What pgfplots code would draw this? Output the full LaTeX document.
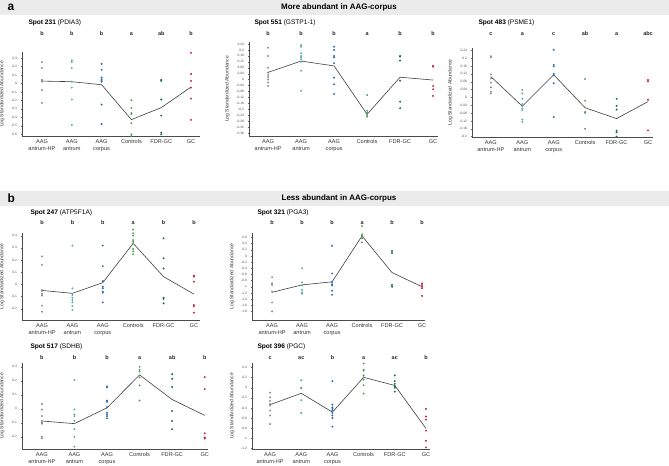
\documentclass[border=0pt]{standalone}
\usepackage{fontspec}
\setmainfont{Liberation Sans}
\usepackage{pgfplots}
\pgfplotsset{compat=1.18}
\definecolor{cHP}{HTML}{8C8C8C}
\definecolor{cAnt}{HTML}{5FAAA8}
\definecolor{cCor}{HTML}{2F6DB0}
\definecolor{cCon}{HTML}{55A05A}
\definecolor{cFdr}{HTML}{1E6A50}
\definecolor{cGC}{HTML}{C8283C}
\definecolor{barg}{HTML}{EBEBEB}
\pgfplotsset{
 panel/.style={
  scale only axis, clip=false, anchor=south west,
  axis lines=left, axis line style={-, line width=0.5bp, black!70},
  xtick={0,1,2,3,4,5},
  xticklabels={{AAG\\antrum-HP},{AAG\\antrum},{AAG\\corpus},{Controls},{FDR-GC},{GC}},
  xticklabel style={font=\fontsize{5.6}{7.1}\selectfont, align=center, text=black!80, anchor=north, inner sep=1.5bp},
  yticklabel style={font=\fontsize{3.3}{4}\selectfont, text=black!70},
  tick style={black!60, line width=0.3bp},
  major tick length=1.5bp, tick align=outside,
  ylabel={Log Standardized Abundance},
  ylabel style={font=\fontsize{5}{6}\selectfont, text=black!80},
  scaled ticks=false,
  /pgf/number format/assume math mode=true,
  /pgf/number format/fixed,
  /pgf/number format/precision=2,
 },
 pts/.style={only marks, mark=*, mark size=0.75bp, mark options={draw=none}},
 meanl/.style={no marks, line width=0.6bp, black!75},
}
\tikzset{letter/.style={font=\bfseries\fontsize{5.5}{6}\selectfont, text=black!85}}
\newcommand\cats[1]{%
 \coordinate (#1-0) at (axis cs:0,0);
 \coordinate (#1-1) at (axis cs:1,0);
 \coordinate (#1-2) at (axis cs:2,0);
 \coordinate (#1-3) at (axis cs:3,0);
 \coordinate (#1-4) at (axis cs:4,0);
 \coordinate (#1-5) at (axis cs:5,0);
}
\newcommand\letters[8]{%
 \node[letter] at (#1-0 |- 0,#2) {#3};
 \node[letter] at (#1-1 |- 0,#2) {#4};
 \node[letter] at (#1-2 |- 0,#2) {#5};
 \node[letter] at (#1-3 |- 0,#2) {#6};
 \node[letter] at (#1-4 |- 0,#2) {#7};
 \node[letter] at (#1-5 |- 0,#2) {#8};
}
\begin{document}
\begin{tikzpicture}[x=1bp,y=1bp]
\useasboundingbox (0,0) rectangle (669,466);
\fill[white] (0,0) rectangle (669,466);
% header bars
\fill[barg] (0,451) rectangle (669,466);
\node[font=\bfseries\fontsize{12}{12}\selectfont, anchor=west] at (4,458.5) {a};
\node[font=\bfseries\fontsize{8}{9}\selectfont] at (339,458.5) {More abundant in AAG-corpus};
\fill[barg] (0,260) rectangle (669,275);
\node[font=\bfseries\fontsize{12}{12}\selectfont, anchor=west] at (4,267.5) {b};
\node[font=\bfseries\fontsize{8}{9}\selectfont] at (339,267.5) {Less abundant in AAG-corpus};
% titles
\tikzset{ttl/.style={anchor=west, font=\fontsize{6.6}{7}\selectfont}}
\node[ttl] at (25,443) {\textbf{Spot 231} (PDIA3)};
\node[ttl] at (251,443) {\textbf{Spot 551} (GSTP1-1)};
\node[ttl] at (475,443) {\textbf{Spot 483} (PSME1)};
\node[ttl] at (27,253) {\textbf{Spot 247} (ATP5F1A)};
\node[ttl] at (254,253) {\textbf{Spot 321} (PGA3)};
\node[ttl] at (27,119) {\textbf{Spot 517} (SDHB)};
\node[ttl] at (254,119) {\textbf{Spot 396} (PGC)};

% ---------- a1 Spot 231
\begin{axis}[panel, at={(22bp,330bp)}, width=178bp, height=84bp,
  xmin=-0.67, xmax=5.3, ymin=-0.62, ymax=0.37,
  ytick={-0.6,-0.5,-0.4,-0.3,-0.2,-0.1,0,0.1,0.2,0.3}]
\addplot[meanl] coordinates {(0,0.027) (1,0.02) (2,-0.016) (3,-0.427) (4,-0.286) (5,-0.043)};
\addplot[pts, cHP] coordinates {(0,0.25) (0,0.18) (0,0.04) (0,0.03) (0,0.02) (0,-0.08) (0,-0.23)};
\addplot[pts, cAnt] coordinates {(1,0.27) (1,0.25) (1,0.18) (1,0.02) (1,-0.05) (1,-0.19) (1,-0.49)};
\addplot[pts, cCor] coordinates {(2,0.23) (2,0.16) (2,0.07) (2,0.05) (2,0.03) (2,0.02) (2,-0.25) (2,-0.48)};
\addplot[pts, cCon] coordinates {(3,-0.2) (3,-0.29) (3,-0.35) (3,-0.36) (3,-0.47) (3,-0.6) (3,-0.62)};
\addplot[pts, cFdr] coordinates {(4,0.04) (4,0.03) (4,-0.19) (4,-0.38) (4,-0.58) (4,-0.6)};
\addplot[pts, cGC] coordinates {(5,0.36) (5,0.11) (5,0.03) (5,-0.05) (5,-0.18) (5,-0.43)};
\cats{A1}
\end{axis}
\letters{A1}{432}{b}{b}{b}{a}{ab}{b}

% ---------- a2 Spot 551
\begin{axis}[panel, at={(249bp,330bp)}, width=189bp, height=94bp,
  xmin=-0.58, xmax=5.15, ymin=-0.38, ymax=0.2535,
  ytick={-0.36,-0.32,-0.28,-0.24,-0.2,-0.16,-0.12,-0.08,-0.04,0,0.04,0.08,0.12,0.16,0.2,0.24}]
\addplot[meanl] coordinates {(0,0.049) (1,0.125) (2,0.092) (3,-0.234) (4,0.016) (5,-0.003)};
\addplot[pts, cHP] coordinates {(0,0.215) (0,0.159) (0,0.08) (0,0.047) (0,0.031) (0,0.016) (0,0.0) (0,-0.02) (0,-0.043)};
\addplot[pts, cAnt] coordinates {(1,0.233) (1,0.222) (1,0.177) (1,0.159) (1,0.15) (1,0.137) (1,0.121) (1,0.06) (1,-0.075)};
\addplot[pts, cCor] coordinates {(2,0.222) (2,0.2) (2,0.159) (2,0.15) (2,0.11) (2,0.013) (2,-0.032) (2,-0.097)};
\addplot[pts, cCon] coordinates {(3,-0.104) (3,-0.21) (3,-0.223) (3,-0.239) (3,-0.25)};
\addplot[pts, cFdr] coordinates {(4,0.159) (4,0.155) (4,0.128) (4,-0.007) (4,-0.149) (4,-0.193)};
\addplot[pts, cGC] coordinates {(5,0.092) (5,0.087) (5,-0.043) (5,-0.065) (5,-0.11)};
\cats{A2}
\end{axis}
\letters{A2}{432}{b}{b}{b}{a}{b}{b}

% ---------- a3 Spot 483
\begin{axis}[panel, at={(472bp,329bp)}, width=181bp, height=89bp,
  xmin=-0.6, xmax=5.16, ymin=-0.202, ymax=0.252,
  ytick={-0.2,-0.16,-0.12,-0.08,-0.04,0,0.04,0.08,0.12,0.16,0.2,0.24}]
\addplot[meanl] coordinates {(0,0.106) (1,-0.045) (2,0.115) (3,-0.053) (4,-0.108) (5,-0.022)};
\addplot[pts, cHP] coordinates {(0,0.21) (0,0.205) (0,0.117) (0,0.096) (0,0.075) (0,0.051) (0,0.029) (0,0.02)};
\addplot[pts, cAnt] coordinates {(1,0.038) (1,0.02) (1,-0.007) (1,-0.034) (1,-0.045) (1,-0.057) (1,-0.065) (1,-0.113) (1,-0.125)};
\addplot[pts, cCor] coordinates {(2,0.243) (2,0.166) (2,0.158) (2,0.12) (2,0.113) (2,0.072) (2,-0.1)};
\addplot[pts, cCon] coordinates {(3,0.094) (3,-0.017) (3,-0.074) (3,-0.079) (3,-0.16)};
\addplot[pts, cFdr] coordinates {(4,-0.007) (4,-0.043) (4,-0.062) (4,-0.17) (4,-0.178) (4,-0.2)};
\addplot[pts, cGC] coordinates {(5,0.089) (5,0.082) (5,-0.012) (5,-0.168)};
\cats{A3}
\end{axis}
\letters{A3}{432}{c}{a}{c}{ab}{a}{abc}

% ---------- b1 Spot 247
\begin{axis}[panel, at={(22bp,146bp)}, width=178bp, height=87bp,
  xmin=-0.66, xmax=5.2, ymin=-0.293, ymax=0.422,
  ytick={-0.2,-0.1,0,0.1,0.2,0.3,0.4}]
\addplot[meanl] coordinates {(0,-0.05) (1,-0.074) (2,0.014) (3,0.337) (4,0.063) (5,-0.08)};
\addplot[pts, cHP] coordinates {(0,0.23) (0,0.16) (0,-0.047) (0,-0.055) (0,-0.08) (0,-0.093) (0,-0.175) (0,-0.225)};
\addplot[pts, cAnt] coordinates {(1,0.318) (1,-0.033) (1,-0.088) (1,-0.11) (1,-0.13) (1,-0.148) (1,-0.18) (1,-0.21)};
\addplot[pts, cCor] coordinates {(2,0.318) (2,0.15) (2,0.027) (2,-0.02) (2,-0.033) (2,-0.06) (2,-0.068) (2,-0.148)};
\addplot[pts, cCon] coordinates {(3,0.45) (3,0.42) (3,0.40) (3,0.364) (3,0.35) (3,0.337) (3,0.29) (3,0.27) (3,0.247)};
\addplot[pts, cFdr] coordinates {(4,0.378) (4,0.214) (4,0.13) (4,-0.11) (4,-0.12) (4,-0.156)};
\addplot[pts, cGC] coordinates {(5,0.071) (5,0.063) (5,0.022) (5,-0.17) (5,-0.18) (5,-0.233)};
\cats{B1}
\end{axis}
\letters{B1}{243}{b}{b}{b}{a}{b}{b}

% ---------- b2 Spot 321
\begin{axis}[panel, at={(252bp,146bp)}, width=173bp, height=87bp,
  xmin=-0.67, xmax=5.1, ymin=-2.08, ymax=0.746,
  ytick={-1.8,-1.6,-1.4,-1.2,-1,-0.8,-0.6,-0.4,-0.2,0,0.2,0.4,0.6}]
\addplot[meanl] coordinates {(0,-1.18) (1,-0.94) (2,-0.84) (3,0.65) (4,-0.54) (5,-1.0)};
\addplot[pts, cHP] coordinates {(0,-0.69) (0,-0.89) (0,-0.94) (0,-1.16) (0,-1.51) (0,-1.8)};
\addplot[pts, cAnt] coordinates {(1,-0.4) (1,-0.86) (1,-0.96) (1,-1.1) (1,-1.18) (1,-1.23)};
\addplot[pts, cCor] coordinates {(2,0.33) (2,-0.57) (2,-0.85) (2,-0.92) (2,-0.96) (2,-1.13) (2,-1.26)};
\addplot[pts, cCon] coordinates {(3,0.97) (3,0.7) (3,0.66) (3,0.62) (3,0.57) (3,0.44)};
\addplot[pts, cFdr] coordinates {(4,0.16) (4,0.09) (4,-0.94) (4,-1.0)};
\addplot[pts, cGC] coordinates {(5,-0.89) (5,-0.94) (5,-1.0) (5,-1.05) (5,-1.3)};
\cats{B2}
\end{axis}
\letters{B2}{243}{b}{b}{b}{a}{b}{b}

% ---------- b3 Spot 517
\begin{axis}[panel, at={(22bp,17bp)}, width=186bp, height=86bp,
  xmin=-0.61, xmax=5.1, ymin=-0.287, ymax=0.327,
  ytick={-0.2,-0.1,0,0.1,0.2,0.3}]
\addplot[meanl] coordinates {(0,-0.087) (1,-0.106) (2,0.007) (3,0.242) (4,0.066) (5,-0.047)};
\addplot[pts, cHP] coordinates {(0,0.035) (0,-0.005) (0,-0.052) (0,-0.087) (0,-0.1) (0,-0.106) (0,-0.2) (0,-0.21)};
\addplot[pts, cAnt] coordinates {(1,0.207) (1,-0.005) (1,-0.04) (1,-0.052) (1,-0.087) (1,-0.146) (1,-0.2) (1,-0.27)};
\addplot[pts, cCor] coordinates {(2,0.16) (2,0.153) (2,0.059) (2,0.05) (2,0.012) (2,-0.028) (2,-0.04) (2,-0.052) (2,-0.068)};
\addplot[pts, cCon] coordinates {(3,0.3) (3,0.278) (3,0.266) (3,0.224) (3,0.167) (3,0.059)};
\addplot[pts, cFdr] coordinates {(4,0.247) (4,0.214) (4,0.155) (4,-0.016) (4,-0.087) (4,-0.146)};
\addplot[pts, cGC] coordinates {(5,0.226) (5,0.141) (5,-0.176) (5,-0.205) (5,-0.212)};
\cats{B3}
\end{axis}
\letters{B3}{108}{b}{b}{b}{a}{ab}{b}

% ---------- b4 Spot 396
\begin{axis}[panel, at={(252bp,17bp)}, width=178bp, height=86bp,
  xmin=-0.58, xmax=5.13, ymin=-1.213, ymax=0.49,
  ytick={-1.2,-1,-0.8,-0.6,-0.4,-0.2,0,0.2,0.4}]
\addplot[meanl] coordinates {(0,-0.335) (1,-0.11) (2,-0.484) (3,0.206) (4,0.045) (5,-0.806)};
\addplot[pts, cHP] coordinates {(0,-0.097) (0,-0.19) (0,-0.26) (0,-0.32) (0,-0.355) (0,-0.45) (0,-0.55) (0,-0.72)};
\addplot[pts, cAnt] coordinates {(1,0.148) (1,0) (1,-0.013) (1,-0.245) (1,-0.5)};
\addplot[pts, cCor] coordinates {(2,0.13) (2,-0.335) (2,-0.39) (2,-0.42) (2,-0.45) (2,-0.5) (2,-0.55) (2,-0.6) (2,-0.77)};
\addplot[pts, cCon] coordinates {(3,0.48) (3,0.355) (3,0.336) (3,0.245) (3,0.206) (3,0.16) (3,0.05) (3,-0.116)};
\addplot[pts, cFdr] coordinates {(4,0.245) (4,0.13) (4,0.077) (4,0.03) (4,0) (4,-0.077)};
\addplot[pts, cGC] coordinates {(5,-0.42) (5,-0.57) (5,-0.63) (5,-0.85) (5,-1.05) (5,-1.18)};
\cats{B4}
\end{axis}
\letters{B4}{108}{c}{ac}{b}{a}{ac}{b}
\end{tikzpicture}
\end{document}
